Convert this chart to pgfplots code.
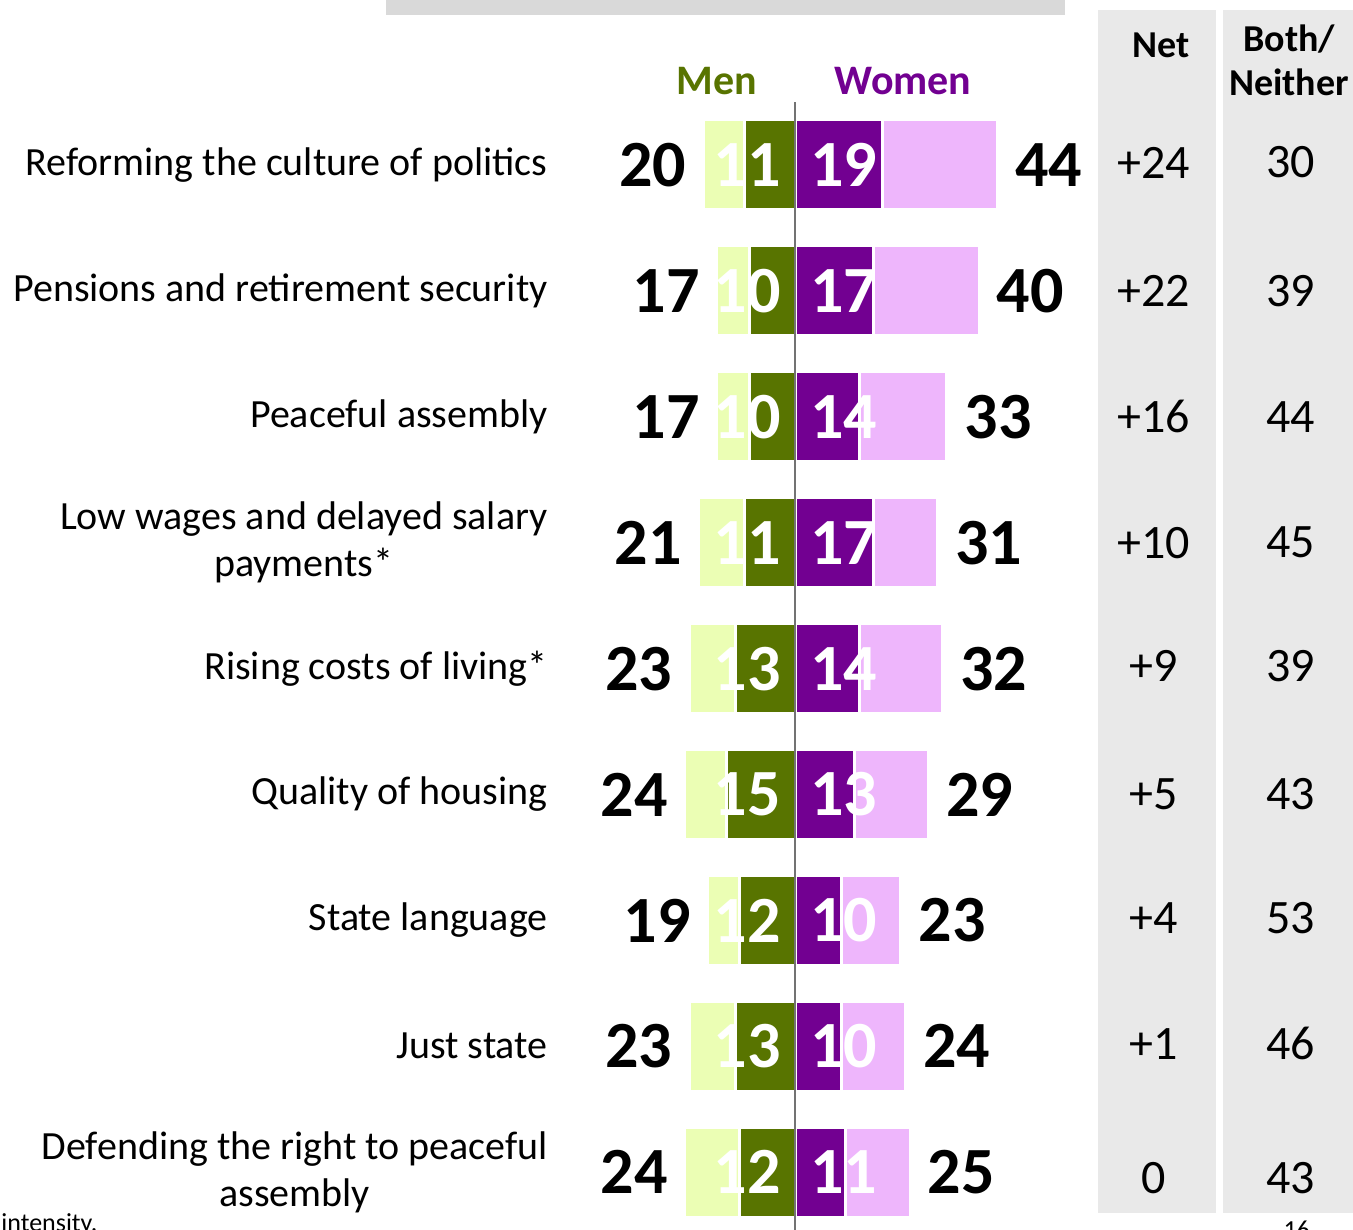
\documentclass[border=0pt]{standalone}
\usepackage{pgfplots}
\pgfplotsset{compat=1.18}
\usepackage{pgfplotstable}
\usepackage{fontspec}
\setmainfont{Carlito}

\definecolor{mlight}{HTML}{EBFEB4}
\definecolor{mdark}{HTML}{587400}
\definecolor{wdark}{HTML}{720091}
\definecolor{wlight}{HTML}{EEB6FC}
\definecolor{colgray}{HTML}{E9E9E9}
\definecolor{topgray}{HTML}{D9D9D9}

% men total, men strong, women strong, women total, net, both/neither
\pgfplotstableread{
row mt ms ws wt net both ny
0 20 11 19 44 +24 30 -0.02
1 17 10 17 40 +22 39 1
2 17 10 14 33 +16 44 2
3 21 11 17 31 +10 45 3
4 23 13 14 32 +9 39 3.98
5 24 15 13 29 +5 43 5
6 19 12 10 23 +4 53 5.98
7 23 13 10 24 +1 46 6.98
8 24 12 11 25 0 43 8.05
}\datatable

\newcommand\bignum{\bfseries\fontsize{33}{36}\selectfont}
\newcommand\catfont{\fontsize{20}{23.5}\selectfont}
\newcommand\colfont{\fontsize{24}{28}\selectfont}

\begin{document}
\begin{tikzpicture}
\clip (0,0) rectangle (676.5pt,615pt);
\begin{axis}[
  at={(0,0)}, anchor=south west, scale only axis,
  width=676.5pt, height=615pt,
  xmin=-172.83, xmax=121.30, ymin=-1.3106, ymax=8.4591,
  y dir=reverse, hide axis, clip=false]

% background panels
\fill[colgray] (axis cs:65.87,-1.231) rectangle (axis cs:91.52,8.324);
\fill[colgray] (axis cs:93.04,-1.231) rectangle (axis cs:130,8.324);
\fill[topgray] (axis cs:-88.9,-2) rectangle (axis cs:58.7,-1.191);

% bars
\addplot[xbar, bar width=45pt, bar shift=0pt, fill=mlight, draw=white, line width=1.5pt]
  table[x expr=-\thisrow{mt}, y=row]{\datatable};
\addplot[xbar, bar width=45pt, bar shift=0pt, fill=mdark, draw=white, line width=1.5pt]
  table[x expr=-\thisrow{ms}, y=row]{\datatable};
\addplot[xbar, bar width=45pt, bar shift=0pt, fill=wlight, draw=white, line width=1.5pt]
  table[x=wt, y=row]{\datatable};
\addplot[xbar, bar width=45pt, bar shift=0pt, fill=wdark, draw=white, line width=1.5pt]
  table[x=ws, y=row]{\datatable};

\draw[gray!90!black, line width=0.8pt] (axis cs:0,-0.5) -- (axis cs:0,9);

% totals
\addplot[draw=none, nodes near coords, point meta=explicit symbolic,
  nodes near coords style={anchor=east, font=\bignum, inner sep=0pt}]
  table[x expr=-\thisrow{mt}-3.6, y=row, meta=mt]{\datatable};
\addplot[draw=none, nodes near coords, point meta=explicit symbolic,
  nodes near coords style={anchor=west, font=\bignum, inner sep=0pt}]
  table[x expr=\thisrow{wt}+3.8, y=row, meta=wt]{\datatable};
% strong
\addplot[draw=none, nodes near coords, point meta=explicit symbolic,
  nodes near coords style={anchor=center, font=\bignum, text=white, inner sep=0pt}]
  table[x expr=-10.4, y=row, meta=ms]{\datatable};
\addplot[draw=none, nodes near coords, point meta=explicit symbolic,
  nodes near coords style={anchor=center, font=\bignum, text=white, inner sep=0pt}]
  table[x expr=10.6, y=row, meta=ws]{\datatable};
% net and both/neither
\addplot[draw=none, nodes near coords, point meta=explicit symbolic,
  nodes near coords style={anchor=center, font=\colfont, inner sep=0pt}]
  table[x expr=78.0, y=ny, meta=net]{\datatable};
\addplot[draw=none, nodes near coords, point meta=explicit symbolic,
  nodes near coords style={anchor=center, font=\colfont, inner sep=0pt}]
  table[x expr=107.8, y=ny, meta=both]{\datatable};

% headers
\node[font=\bfseries\fontsize{21}{24}\selectfont, text=mdark] at (axis cs:-16.96,-0.667) {Men};
\node[font=\bfseries\fontsize{21}{24}\selectfont, text=wdark] at (axis cs:23.5,-0.667) {Women};
\node[font=\bfseries\fontsize{19}{22}\selectfont] at (axis cs:79.6,-0.953) {Net};
\node[font=\bfseries\fontsize{19}{22}\selectfont, align=center] at (axis cs:107.4,-0.834) {Both/\\Neither};

% category labels
\tikzset{cat/.style={anchor=east, font=\catfont, align=center, inner sep=0pt}}
\node[cat] at (axis cs:-53.7,0) {Reforming the culture of politics};
\node[cat] at (axis cs:-53.7,1) {Pensions and retirement security};
\node[cat] at (axis cs:-53.7,2) {Peaceful assembly};
\node[cat] at (axis cs:-53.7,3) {Low wages and delayed salary\\payments*};
\node[cat] at (axis cs:-53.7,4) {Rising costs of living*};
\node[cat] at (axis cs:-53.7,5) {Quality of housing};
\node[cat] at (axis cs:-53.7,6) {State language};
\node[cat] at (axis cs:-53.7,7) {Just state};
\node[cat] at (axis cs:-53.7,8) {Defending the right to peaceful\\assembly};

% footer text, cut at the edge as in the source slide
\node[anchor=base west, inner sep=0pt, font=\fontsize{13}{15}\selectfont] at (axis cs:-172.6,8.47) {intensity.};
\node[anchor=base west, inner sep=0pt, font=\fontsize{13}{15}\selectfont] at (axis cs:106.1,8.527) {16};
\end{axis}
\end{tikzpicture}
\end{document}
